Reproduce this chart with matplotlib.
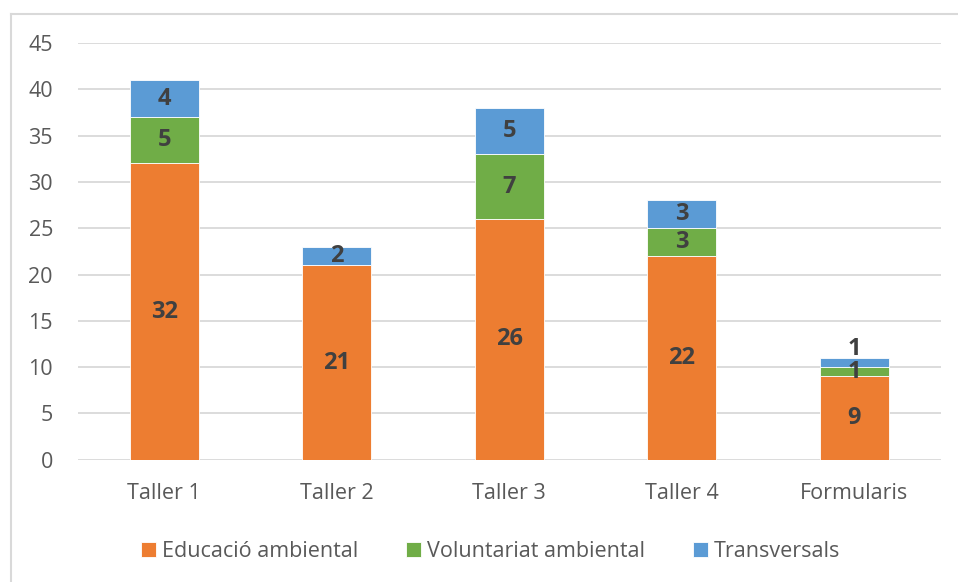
import numpy as np
import matplotlib
matplotlib.use("Agg")
import matplotlib.pyplot as plt
from matplotlib.lines import Line2D

plt.rcParams["font.family"] = ["Open Sans", "DejaVu Sans"]

categories = ["Taller 1", "Taller 2", "Taller 3", "Taller 4", "Formularis"]
educacio = [32, 21, 26, 22, 9]
voluntariat = [5, 0, 7, 3, 1]
transversals = [4, 2, 5, 3, 1]
series_names = ["Educació ambiental", "Voluntariat ambiental", "Transversals"]

ORANGE, GREEN, BLUE = "#ED7D31", "#70AD47", "#5B9BD5"
TXT = "#595959"
LBL = "#404040"

fig = plt.figure(figsize=(9.58, 5.82), dpi=100)
ax = fig.add_axes([0.0814, 0.21, 0.9006, 0.716])

x = np.arange(len(categories))
w = 0.4
bottom = np.zeros(len(categories))
prev = np.zeros(len(categories))
for vals, col, name in zip([educacio, voluntariat, transversals],
                           [ORANGE, GREEN, BLUE], series_names):
    vals = np.array(vals, dtype=float)
    ax.bar(x, vals, w, bottom=bottom, color=col, label=name,
           edgecolor="white", linewidth=0.6, zorder=3)
    for i, (xi, v, b0) in enumerate(zip(x, vals, bottom)):
        if v > 0:
            # nudge small stacked labels apart like Excel does
            dy = 10 if (v < 2 and 0 < prev[i] < 2) else 0
            ax.annotate(f"{int(v)}", (xi, b0 + v / 2), xytext=(0, dy),
                        textcoords="offset points", ha="center", va="center",
                        fontsize=17, fontweight="bold", color=LBL, zorder=4)
    prev = vals
    bottom += vals

ax.set_xlim(-0.5, len(categories) - 0.5)
ax.set_ylim(0, 45)
ax.set_yticks(np.arange(0, 46, 5))
ax.set_xticks(x)
ax.set_xticklabels(categories)
ax.yaxis.grid(True, color="#D9D9D9", linewidth=1.3, zorder=0)
ax.set_axisbelow(True)
for s in ax.spines.values():
    s.set_visible(False)
ax.tick_params(axis="both", length=0, labelsize=15.5, colors=TXT)
ax.tick_params(axis="y", pad=18)
ax.tick_params(axis="x", pad=17)

handles, labels = ax.get_legend_handles_labels()
leg = fig.legend(handles, labels, loc="center", bbox_to_anchor=(0.512, 0.052),
                 ncol=3, frameon=False, fontsize=15.5, handlelength=0.7,
                 handleheight=0.7, handletextpad=0.3, columnspacing=2.2)
for t in leg.get_texts():
    t.set_color(TXT)

# chart border (left and top visible)
fig.add_artist(Line2D([0.0115, 0.0115], [0, 0.976], color="#D9D9D9", lw=1.5))
fig.add_artist(Line2D([0.0115, 1.0], [0.976, 0.976], color="#D9D9D9", lw=1.5))

fig.savefig("out.png", dpi=100)
